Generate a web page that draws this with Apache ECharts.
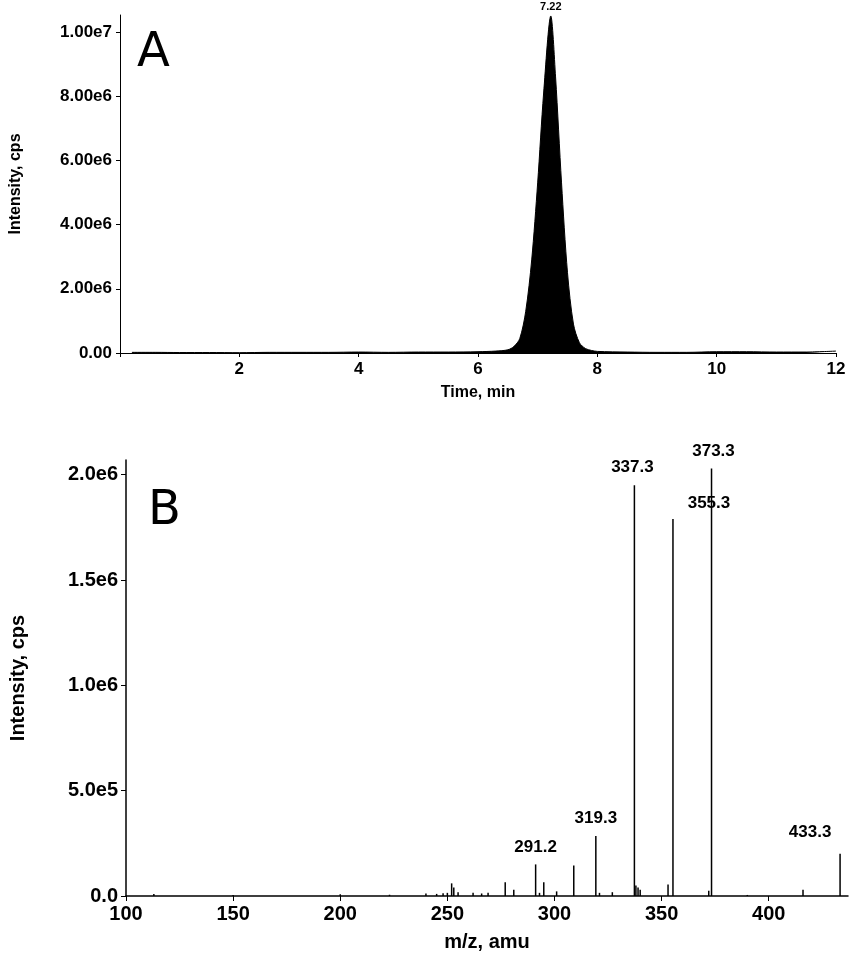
<!DOCTYPE html>
<html><head><meta charset="utf-8">
<script src="https://cdn.jsdelivr.net/npm/echarts@6/dist/echarts.min.js"></script>
<style>html,body{margin:0;padding:0;background:#fff}#c{width:850px;height:955px}</style>
</head><body><div id="c"></div>
<script>
const chromTime = [0.2,0.6,1,1.5,2,2.5,3,3.5,4,4.5,5,5.5,6,6.3,6.5,6.6,6.7,6.8,6.9,7.0,7.1,7.22,7.3,7.4,7.5,7.6,7.7,7.8,7.9,8.0,8.5,9,9.5,10,10.5,11,11.5,12];
const chromIntensity = [2e4,2e4,1.5e4,1.5e4,1e4,2e4,2e4,2e4,3e4,2e4,3e4,3e4,4e4,6e4,1e5,2e5,4.5e5,1.3e6,2.9e6,5.3e6,8.1e6,1.05e7,8.6e6,5.3e6,2.5e6,9e5,3.2e5,1.4e5,8e4,5e4,3e4,2e4,2e4,4e4,4e4,3e4,3e4,6e4];
const specMz = [113,150,200,223,240,245,248,250,252,253,255,262,266,269,277,281,291.2,293,295,301,309,319.3,321,327,337.3,338,339,340,353,355.3,372,373.3,390,416,433.3];
const specIntensity = [1e4,5e3,8e3,6e3,1.2e4,1e4,1.3e4,1.5e4,6e4,4e4,1.8e4,1.5e4,1.2e4,1.5e4,6.5e4,3e4,1.5e5,1.5e4,6.5e4,2.2e4,1.45e5,2.85e5,1.5e4,1.8e4,1.95e6,5e4,4e4,3e4,5.5e4,1.79e6,2.5e4,2.03e6,5e3,3e4,2.0e5];
const specLabels = ["291.2","319.3","337.3","355.3","373.3","433.3"];

const font = 'Liberation Sans';
const chart = echarts.init(document.getElementById('c'));
const specData = specMz.map((m,i)=>{
  const lbl = specLabels.indexOf(String(m))>=0;
  const o = {value:[m,specIntensity[i]]};
  if(lbl){
    let off=[0,-4];
    if(m===355.3){off=[36,-2];}
    if(m===433.3){off=[-30,-8];}
    if(m===337.3){off=[-2,-4];}
    if(m===373.3){off=[2,-4];}
    o.label={show:true,position:'top',offset:off,formatter:String(m),fontFamily:font,fontWeight:'bold',fontSize:17,color:'#000'};
  }
  return o;
});
chart.setOption({
  animation:false,
  graphic:[
    {type:'text',left:137,top:30,style:{text:'A',font:'48px "DejaVu Sans"',fill:'#000'}},
    {type:'text',left:148,top:488,style:{text:'B',font:'48px "DejaVu Sans"',fill:'#000'}}
  ],
  grid:[{left:110,right:14,top:15,height:338},{left:126,right:2,top:460,height:436}],
  xAxis:[
    {gridIndex:0,type:'value',min:0,max:12,interval:2,name:'Time, min',nameLocation:'middle',nameGap:32,
     nameTextStyle:{fontFamily:font,fontWeight:'bold',fontSize:16,color:'#000'},
     axisLine:{lineStyle:{color:'#000'}},axisTick:{length:4,lineStyle:{color:'#000'}},splitLine:{show:false},
     axisLabel:{fontFamily:font,fontWeight:'bold',fontSize:17,color:'#000',formatter:v=>v===0?'':v}},
    {gridIndex:1,type:'value',min:100,max:437,interval:50,name:'m/z, amu',nameLocation:'middle',nameGap:36,
     nameTextStyle:{fontFamily:font,fontWeight:'bold',fontSize:20,color:'#000'},
     axisLine:{lineStyle:{color:'#000',width:1.5}},axisTick:{length:5,lineStyle:{color:'#000'}},splitLine:{show:false},
     axisLabel:{fontFamily:font,fontWeight:'bold',fontSize:20,color:'#000',showMaxLabel:false}}
  ],
  yAxis:[
    {gridIndex:0,type:'value',min:0,max:1.053e7,interval:2e6,name:'Intensity, cps',nameLocation:'middle',nameGap:96,
     nameTextStyle:{fontFamily:font,fontWeight:'bold',fontSize:16,color:'#000'},
     axisLine:{show:true,lineStyle:{color:'#000'}},axisTick:{show:true,length:4,lineStyle:{color:'#000'}},splitLine:{show:false},
     axisLabel:{fontFamily:font,fontWeight:'bold',fontSize:17,color:'#000',showMaxLabel:false,
       formatter:v=>v===0?'0.00':(v>=1e7?(v/1e7).toFixed(2)+'e7':(v/1e6).toFixed(2)+'e6')}},
    {gridIndex:1,type:'value',min:0,max:2.07e6,interval:5e5,name:'Intensity, cps',nameLocation:'middle',nameGap:98,
     nameTextStyle:{fontFamily:font,fontWeight:'bold',fontSize:20,color:'#000'},
     axisLine:{show:true,lineStyle:{color:'#000',width:1.5}},axisTick:{show:true,length:5,lineStyle:{color:'#000'}},splitLine:{show:false},
     axisLabel:{fontFamily:font,fontWeight:'bold',fontSize:20,color:'#000',showMaxLabel:false,
       formatter:v=>v===0?'0.0':(v>=1e6?(v/1e6).toFixed(1)+'e6':(v/1e5).toFixed(1)+'e5')}}
  ],
  series:[
    {type:'line',xAxisIndex:0,yAxisIndex:0,data:chromTime.map((t,i)=>[t,chromIntensity[i]]),
     symbol:'none',smooth:0.3,lineStyle:{color:'#000',width:1},areaStyle:{color:'#000',opacity:1},
     markPoint:{symbol:'circle',symbolSize:0,data:[{coord:[7.22,1.05e7]}],
       label:{show:true,position:'top',distance:3,formatter:'7.22',fontFamily:font,fontWeight:'bold',fontSize:11,color:'#000'}}},
    {type:'bar',xAxisIndex:1,yAxisIndex:1,barWidth:1.5,data:specData,itemStyle:{color:'#000'}}
  ]
});
</script></body></html>
